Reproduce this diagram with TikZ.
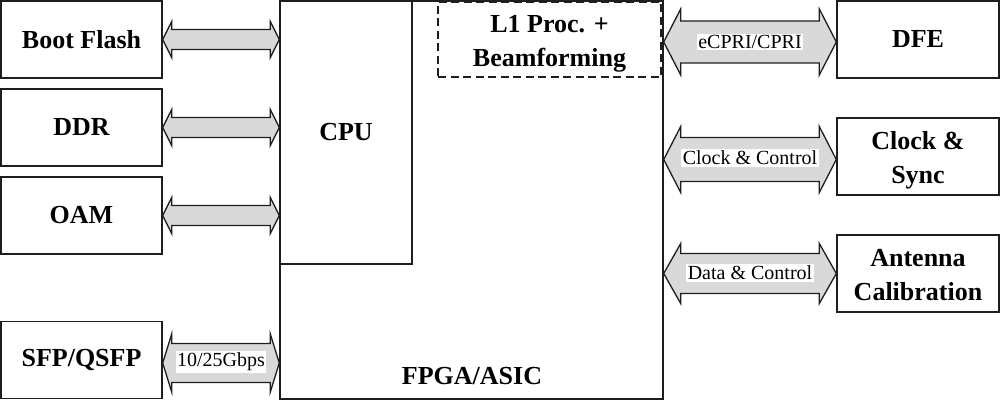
\documentclass[tikz,border=0pt]{standalone}
\usepackage{fontspec}
\setmainfont{Liberation Serif}
\usetikzlibrary{calc}
\definecolor{linecol}{HTML}{1E1E1E}
\definecolor{arrfill}{HTML}{D9D9D9}
\tikzset{
  blk/.style={draw=linecol, line width=1.4pt, fill=white, inner sep=0pt, align=center,
    font=\fontsize{26}{34}\selectfont\bfseries},
  side/.style={blk, minimum width=161pt, minimum height=77pt},
  bus/.style={draw=linecol, line width=1.3pt, fill=arrfill, line join=miter},
  lbl/.style={fill=white, inner sep=1.5pt, font=\fontsize{20}{24}\selectfont},
  plain/.style={inner sep=0pt, font=\fontsize{26}{34}\selectfont\bfseries},
}
\newcommand\twol[2]{\raisebox{-9.5pt}[0pt][0pt]{\begin{tabular}{@{}c@{}}#1\\#2\end{tabular}}}
\newcommand\busarrow[6]{%
  \draw[bus] let \p1=(#1), \p2=(#2), \p3=(#3) in
    (\x1,\y3) -- (\x1+#6pt,\y3+#5pt) -- (\x1+#6pt,\y3+#4pt) -- (\x2-#6pt,\y3+#4pt)
    -- (\x2-#6pt,\y3+#5pt) -- (\x2,\y3) -- (\x2-#6pt,\y3-#5pt) -- (\x2-#6pt,\y3-#4pt)
    -- (\x1+#6pt,\y3-#4pt) -- (\x1+#6pt,\y3-#5pt) -- cycle;}
\begin{document}
\begin{tikzpicture}[x=1pt,y=-1pt]
\useasboundingbox (0,0) rectangle (1001,401);
% main blocks
\node[blk, minimum width=383pt, minimum height=398pt] (fpga) at (471.5,200) {};
\node[plain] (fpgalbl) at (472,376) {FPGA/ASIC};
\node[blk, minimum width=132pt, minimum height=263pt] (cpu) at (346,132.5) {CPU};
\node[blk, dash pattern=on 8pt off 4.5pt, minimum width=223pt, minimum height=75pt] (l1) at (549.5,39.5) {\twol{L1 Proc. +}{Beamforming}};
% left side
\node[side] (boot) at (81.5,39.5) {Boot Flash};
\node[side] (ddr) at (81.5,127.5) {DDR};
\node[side] (oam) at (81.5,215.5) {OAM};
\node[side] (sfp) at (81.5,360) {SFP/QSFP};
% right side
\node[side, minimum width=162pt] (dfe) at (918,39.5) {DFE};
\node[side, minimum width=162pt] (sync) at (918,156.5) {\twol{Clock \&}{Sync}};
\node[side, minimum width=162pt] (ant) at (918,273.5) {\twol{Antenna}{Calibration}};
% connectors
\busarrow{boot.east}{fpga.west}{boot.east}{10}{18}{9}
\busarrow{ddr.east}{fpga.west}{ddr.east}{10}{18}{9}
\busarrow{oam.east}{fpga.west}{oam.east}{10}{18}{9}
\busarrow{sfp.east}{fpga.west}{$(sfp.east)+(0,3)$}{19.5}{29}{9}
\busarrow{fpga.east}{dfe.west}{$(dfe.west)+(0,2.5)$}{21}{33}{17}
\busarrow{fpga.east}{sync.west}{$(sync.west)+(0,3)$}{22}{33}{17}
\busarrow{fpga.east}{ant.west}{ant.west}{20}{30}{17}
% connector labels
\node[lbl] (tsfp) at (221,362) {10/25Gbps};
\node[lbl] (tdfe) at (750,42) {eCPRI/CPRI};
\node[lbl] (tsync) at (750,158) {Clock \& Control};
\node[lbl] (tant) at (750,273) {Data \& Control};
\end{tikzpicture}
\end{document}
